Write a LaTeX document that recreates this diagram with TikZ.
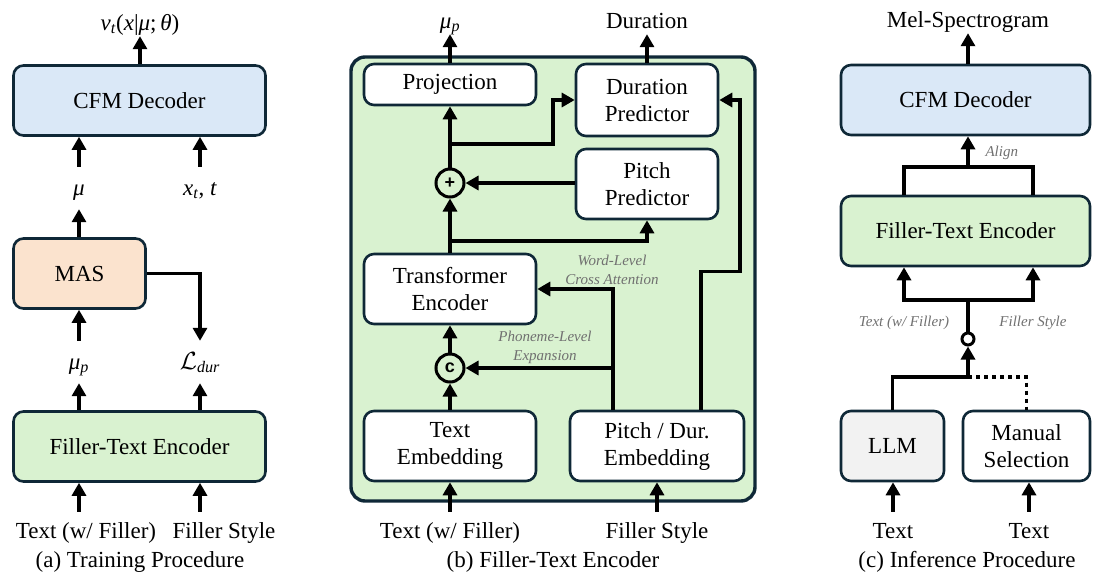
\documentclass[tikz,border=0pt]{standalone}
\usepackage{fontspec}
\setmainfont{Liberation Serif}
\newfontfamily\opfont{Liberation Sans}
\usetikzlibrary{positioning, arrows.meta, calc}
\definecolor{boxline}{RGB}{15,40,55}
\definecolor{cfmblue}{RGB}{218,232,247}
\definecolor{maspeach}{RGB}{251,227,206}
\definecolor{ftegreen}{RGB}{217,242,208}
\definecolor{llmgray}{RGB}{242,242,242}
\definecolor{notegray}{RGB}{112,112,112}
\newcommand{\vsub}[2]{\textit{#1}\textsubscript{\textit{#2}}}

\begin{document}
\begin{tikzpicture}[
    x=1pt, y=-1pt,
    font=\fontsize{23}{27}\selectfont,
    box/.style={rectangle, rounded corners=10pt, draw=boxline, line width=2.6pt, align=center, inner sep=0pt},
    arrow/.style={-{Triangle[length=13pt,width=14pt]}, line width=3.2pt},
    wire/.style={line width=3.2pt},
    lbl/.style={anchor=base, text height=22pt, text depth=8pt, inner xsep=2pt, inner ysep=6pt},
    outlbl/.style={anchor=base, text height=18pt, text depth=2pt, inner ysep=4pt},
    inlbl/.style={anchor=base, text height=22pt, text depth=6pt, inner ysep=4pt},
    note/.style={font=\fontsize{15}{19}\selectfont\itshape, text=notegray, align=center},
    op/.style={circle, draw, line width=3pt, minimum size=28pt, inner sep=0pt, font=\opfont\bfseries\fontsize{18}{18}\selectfont}
]
    \useasboundingbox (0,0) rectangle (1093,579);

    % (a) training procedure
    \node[box, fill=cfmblue, minimum width=252pt, minimum height=70pt] (cfmA) at (139.5,100.5) {CFM Decoder};
    \node[box, fill=maspeach, minimum width=132pt, minimum height=70pt] (masA) at (79.5,273.5) {MAS};
    \node[box, fill=ftegreen, minimum width=252pt, minimum height=70pt] (fteA) at (139.5,446.5) {Filler-Text Encoder};

    \node[outlbl] (vA) at (140,30) {\vsub{v}{t}(\textit{x}|\textit{μ};\,\textit{θ})};
    \node[lbl] (muA) at (79,195) {\textit{μ}};
    \node[lbl] (xtA) at (200,195) {\vsub{x}{t}, \textit{t}};
    \node[lbl] (mupA) at (79,369) {\vsub{μ}{p}};
    \node[lbl] (ldurA) at (200,369) {$\mathcal{L}$\textsubscript{\textit{dur}}};
    \node[inlbl] (txtA) at (86,538) {Text (w/ Filler)};
    \node[inlbl] (styA) at (224,538) {Filler Style};
    \node[anchor=base] (capA) at (140,567) {(a) Training Procedure};

    \draw[arrow] (cfmA.north -| vA) -- (vA);
    \draw[arrow] (muA) -- (cfmA.south -| muA);
    \draw[arrow] (xtA) -- (cfmA.south -| xtA);
    \draw[arrow] (masA.north -| muA) -- (muA);
    \draw[arrow] (masA.east) -| (ldurA);
    \draw[arrow] (mupA) -- (masA.south -| mupA);
    \draw[arrow] (fteA.north -| mupA) -- (mupA);
    \draw[arrow] (fteA.north -| ldurA) -- (ldurA);
    \draw[arrow] (txtA.north -| muA) -- (fteA.south -| muA);
    \draw[arrow] (styA.north -| xtA) -- (fteA.south -| xtA);

    % (b) filler-text encoder
    \node[box, fill=ftegreen, rounded corners=14pt, line width=3.4pt, minimum width=404pt, minimum height=444pt] (encB) at (553,279) {};
    \node[box, fill=white, minimum width=172pt, minimum height=41pt] (projB) at (450,84.5) {Projection};
    \node[box, fill=white, minimum width=142pt, minimum height=72pt] (durB) at (647,100) {Duration\\Predictor};
    \node[box, fill=white, minimum width=142pt, minimum height=70pt] (pitB) at (647,184) {Pitch\\Predictor};
    \node[op] (addB) at (450,183) {+};
    \node[box, fill=white, minimum width=172pt, minimum height=70pt] (trfB) at (450,289) {Transformer\\Encoder};
    \node[op] (catB) at (450,368) {c};
    \node[box, fill=white, minimum width=172pt, minimum height=70pt] (tembB) at (450,446) {Text\\Embedding};
    \node[box, fill=white, minimum width=174pt, minimum height=70pt] (pembB) at (657,446) {Pitch / Dur.\\Embedding};

    \node[outlbl] (mupB) at (450,28) {\vsub{μ}{p}};
    \node[outlbl] (durO) at (647,28) {Duration};
    \node[inlbl] (txtB) at (450,538) {Text (w/ Filler)};
    \node[inlbl] (styB) at (657,538) {Filler Style};
    \node[anchor=base] (capB) at (553,567) {(b) Filler-Text Encoder};
    \node[note] (waB) at (612,270) {Word-Level\\Cross Attention};
    \node[note] (peB) at (545,347) {Phoneme-Level\\Expansion};

    \coordinate (caB) at ($(pembB.north)+(-44,0)$);
    \coordinate (rtB) at ($(pembB.north)+(44,0)$);
    \coordinate (brD) at (450,144);
    \coordinate (brP) at (450,241);

    \draw[arrow] (tembB) -- (catB);
    \draw[arrow] (catB) -- (trfB);
    \draw[arrow] (trfB) -- (addB);
    \draw[arrow] (addB) -- (projB);
    \draw[arrow] (projB) -- (mupB);
    \draw[arrow] (durB) -- (durO);
    \draw[arrow] (pitB.west |- addB) -- (addB);
    \draw[arrow] (brP) -| (pitB);
    \draw[arrow] (brD) -- ++(103,0) |- (durB.west);
    \draw[arrow] (caB) |- (trfB.east);
    \draw[arrow] (caB |- catB) -- (catB);
    \draw[arrow] (rtB) -- ++(0,-138) -- ++(39,0) |- (durB.east);
    \draw[arrow] (txtB) -- (tembB);
    \draw[arrow] (styB) -- (pembB);

    % (c) inference procedure
    \node[box, fill=cfmblue, minimum width=249pt, minimum height=70pt] (cfmC) at (965.5,100) {CFM Decoder};
    \node[box, fill=ftegreen, minimum width=249pt, minimum height=70pt] (fteC) at (965.5,231) {Filler-Text Encoder};
    \node[box, fill=llmgray, minimum width=103pt, minimum height=70pt] (llmC) at (892.5,446) {LLM};
    \node[box, fill=white, minimum width=127pt, minimum height=70pt] (manC) at (1026.5,446) {Manual\\Selection};
    \node[circle, draw, fill=white, line width=3pt, minimum size=12pt, inner sep=0pt] (selC) at (968,339) {};

    \node[outlbl] (melC) at (968,27) {Mel-Spectrogram};
    \node[note, anchor=west] (alN) at (982,153) {Align};
    \node[note] (twN) at (904,323) {Text (w/ Filler)};
    \node[note] (fsN) at (1033,323) {Filler Style};
    \node[inlbl] (txtC) at (893,538) {Text};
    \node[inlbl] (tx2C) at (1029,538) {Text};
    \node[anchor=base] (capC) at (967,567) {(c) Inference Procedure};

    \coordinate (alC) at (968,167);
    \coordinate (fkC) at (968,300);
    \coordinate (jnC) at (968,377);

    \draw[arrow] (cfmC.north -| melC) -- (melC);
    \draw[wire] (fteC.north -| twN) |- (alC) -| (fteC.north -| fsN);
    \draw[arrow] (alC) -- (alC |- cfmC.south);
    \draw[arrow] (fkC) -| (fteC.south -| twN);
    \draw[arrow] (fkC) -| (fteC.south -| fsN);
    \draw[wire] (fkC) -- (selC);
    \draw[arrow] (jnC) -- (selC);
    \draw[wire] (llmC) |- (jnC);
    \draw[wire, dash pattern=on 4pt off 4pt] (jnC) -| (manC);
    \draw[arrow] (txtC) -- (txtC |- llmC.south);
    \draw[arrow] (tx2C) -- (tx2C |- manC.south);
\end{tikzpicture}
\end{document}
